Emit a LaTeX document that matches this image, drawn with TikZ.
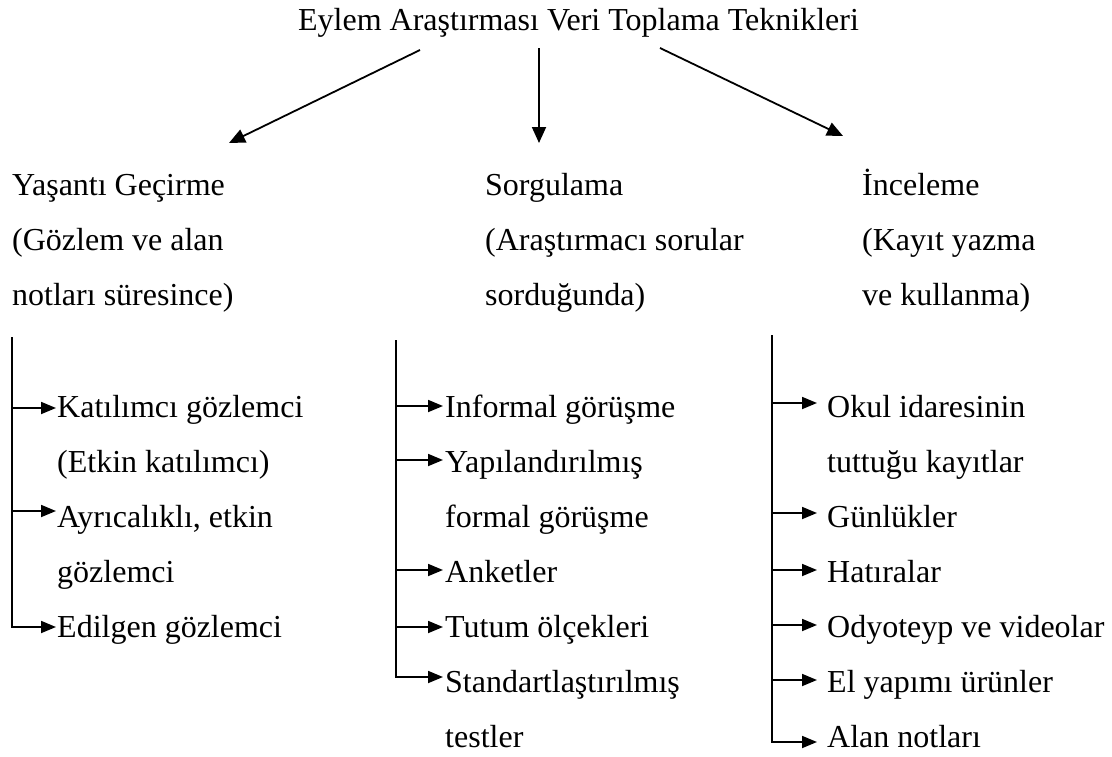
\documentclass[tikz,border=0pt]{standalone}
\usepackage{fontspec}
\setmainfont{Liberation Serif}
\usetikzlibrary{arrows.meta}
\begin{document}
\begin{tikzpicture}[x=1pt,y=-1pt,
  txt/.style={anchor=base west, inner sep=0pt, font=\fontsize{32}{38}\selectfont},
  bigarrow/.style={line width=1.8pt, -{Triangle[length=16pt,width=14pt]}},
  brarrow/.style={line width=1.8pt, -{Triangle[length=15pt,width=12pt]}},
  stem/.style={line width=1.8pt}]
\useasboundingbox (0,0) rectangle (1112,756);
% title
\node[txt, anchor=base] (title) at (578.5,30) {Eylem Araştırması Veri Toplama Teknikleri};
% headers
\node[txt] (h1) at (12,195) {Yaşantı Geçirme};
\node[txt] (h1b) at (12,250) {(Gözlem ve alan};
\node[txt] (h1c) at (12,305) {notları süresince)};
\node[txt] (h2) at (485,195) {Sorgulama};
\node[txt] (h2b) at (485,250) {(Araştırmacı sorular};
\node[txt] (h2c) at (485,305) {sorduğunda)};
\node[txt] (h3) at (862,195) {İnceleme};
\node[txt] (h3b) at (862,250) {(Kayıt yazma};
\node[txt] (h3c) at (862,305) {ve kullanma)};
% main arrows
\coordinate (a1s) at (420,50);  \coordinate (a1e) at (229,143);
\coordinate (a2s) at (539,48);  \coordinate (a2e) at (539,143);
\coordinate (a3s) at (660,48);  \coordinate (a3e) at (843,136);
\draw[bigarrow] (a1s) -- (a1e);
\draw[bigarrow] (a2s) -- (a2e);
\draw[bigarrow] (a3s) -- (a3e);
% left column
\node[txt] (l1) at (57,417) {Katılımcı gözlemci};
\node[txt] (l1b) at (57,472) {(Etkin katılımcı)};
\node[txt] (l2) at (57,527) {Ayrıcalıklı, etkin};
\node[txt] (l2b) at (57,582) {gözlemci};
\node[txt] (l3) at (57,637) {Edilgen gözlemci};
\coordinate (lt) at (12,337);
\coordinate (lb1) at (12,408); \coordinate (lt1) at (56,408);
\coordinate (lb2) at (12,511); \coordinate (lt2) at (56,511);
\coordinate (lb3) at (12,627); \coordinate (lt3) at (56,627);
\draw[brarrow] (lb1) -- (lt1);
\draw[brarrow] (lb2) -- (lt2);
\draw[brarrow] (lt) -- (lb3) -- (lt3);
% middle column
\node[txt] (m1) at (445,417) {Informal görüşme};
\node[txt] (m2) at (445,472) {Yapılandırılmış};
\node[txt] (m2b) at (445,527) {formal görüşme};
\node[txt] (m3) at (445,582) {Anketler};
\node[txt] (m4) at (445,637) {Tutum ölçekleri};
\node[txt] (m5) at (445,692) {Standartlaştırılmış};
\node[txt] (m5b) at (445,747) {testler};
\coordinate (mt) at (396,340);
\coordinate (mb1) at (396,406); \coordinate (mt1) at (443,406);
\coordinate (mb2) at (396,460); \coordinate (mt2) at (443,460);
\coordinate (mb3) at (396,570); \coordinate (mt3) at (443,570);
\coordinate (mb4) at (396,627); \coordinate (mt4) at (443,627);
\coordinate (mb5) at (396,677); \coordinate (mt5) at (443,677);
\draw[brarrow] (mb1) -- (mt1);
\draw[brarrow] (mb2) -- (mt2);
\draw[brarrow] (mb3) -- (mt3);
\draw[brarrow] (mb4) -- (mt4);
\draw[brarrow] (mt) -- (mb5) -- (mt5);
% right column
\node[txt] (r1) at (827,417) {Okul idaresinin};
\node[txt] (r1b) at (827,472) {tuttuğu kayıtlar};
\node[txt] (r2) at (827,527) {Günlükler};
\node[txt] (r3) at (827,582) {Hatıralar};
\node[txt] (r4) at (827,637) {Odyoteyp ve videolar};
\node[txt] (r5) at (827,692) {El yapımı ürünler};
\node[txt] (r6) at (827,747) {Alan notları};
\coordinate (rt) at (772,335);
\coordinate (rb1) at (772,403); \coordinate (rt1) at (817,403);
\coordinate (rb2) at (772,513); \coordinate (rt2) at (817,513);
\coordinate (rb3) at (772,570); \coordinate (rt3) at (817,570);
\coordinate (rb4) at (772,625); \coordinate (rt4) at (817,625);
\coordinate (rb5) at (772,680); \coordinate (rt5) at (817,680);
\coordinate (rb6) at (772,742); \coordinate (rt6) at (817,742);
\draw[brarrow] (rb1) -- (rt1);
\draw[brarrow] (rb2) -- (rt2);
\draw[brarrow] (rb3) -- (rt3);
\draw[brarrow] (rb4) -- (rt4);
\draw[brarrow] (rb5) -- (rt5);
\draw[brarrow] (rt) -- (rb6) -- (rt6);
\end{tikzpicture}
\end{document}
